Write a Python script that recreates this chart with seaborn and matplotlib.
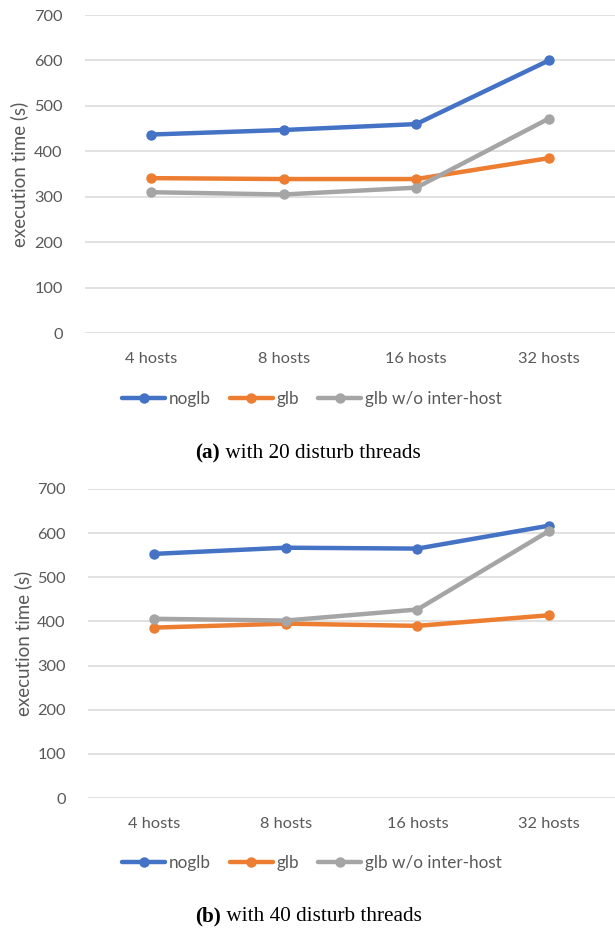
import numpy as np
import pandas as pd
import matplotlib
matplotlib.use("Agg")
import matplotlib.pyplot as plt
import seaborn as sns

# data
hosts = ["4 hosts", "8 hosts", "16 hosts", "32 hosts"]
series = ["noglb", "glb", "glb w/o inter-host"]

noglb_20 = [437, 447, 460, 600]
glb_20 = [341, 339, 339, 385]
nointer_20 = [310, 305, 320, 472]

noglb_40 = [553, 567, 565, 617]
glb_40 = [386, 395, 390, 414]
nointer_40 = [406, 402, 427, 605]

colors = ["#4472C4", "#ED7D31", "#A5A5A5"]
text_gray = "#595959"
grid_gray = "#D9D9D9"


def long_df(a, b, c):
    rows = []
    for name, vals in zip(series, [a, b, c]):
        for h, v in zip(hosts, vals):
            rows.append({"hosts": h, "series": name, "time": v})
    return pd.DataFrame(rows)


df20 = long_df(noglb_20, glb_20, nointer_20)
df40 = long_df(noglb_40, glb_40, nointer_40)

sns.set_theme(style="white")
plt.rcParams["font.family"] = ["Lato", "DejaVu Sans"]

fig = plt.figure(figsize=(6.15, 9.30), dpi=100)
ax1 = fig.add_axes([0.138, 0.6419, 0.862, 0.3419])
ax2 = fig.add_axes([0.143, 0.1419, 0.857, 0.3323])


def draw(ax, df):
    sns.lineplot(data=df, x="hosts", y="time", hue="series", palette=colors,
                 sort=False, marker="o", markersize=7.5, markeredgewidth=0,
                 linewidth=3.2, ax=ax, legend=True)
    ax.set_ylim(0, 700)
    ax.set_xlim(-0.5, 3.5)
    ax.set_yticks(range(0, 701, 100))
    ax.yaxis.grid(True, color=grid_gray, linewidth=1.1)
    ax.set_axisbelow(True)
    for s in ax.spines.values():
        s.set_visible(False)
    ax.tick_params(axis="both", length=0, labelsize=11.8, colors=text_gray)
    ax.tick_params(axis="y", pad=16)
    ax.tick_params(axis="x", pad=14)
    ax.set_xlabel("")
    ax.set_ylabel("execution time (s)", fontsize=13.5, color=text_gray, labelpad=4)
    handles, labels = ax.get_legend_handles_labels()
    ax.get_legend().remove()
    return handles, labels


h1, l1 = draw(ax1, df20)
h2, l2 = draw(ax2, df40)

for handles, labels, ly in [(h1, l1, 0.571), (h2, l2, 0.072)]:
    fig.legend(handles, labels, loc="center", bbox_to_anchor=(0.507, ly), ncol=3,
               frameon=False, fontsize=12.3, handlelength=2.5, handletextpad=0.2,
               columnspacing=1.15, labelcolor=text_gray)

# sub-captions, bold letter + regular text
for letter, rest, cy in [("(a)", " with 20 disturb threads", 1 - 453 / 930),
                         ("(b)", " with 40 disturb threads", 1 - 916 / 930)]:
    t = fig.text(0.318, cy, letter, fontsize=15.3, fontweight="bold",
                 family="Liberation Serif", ha="left", va="center", color="black")
    ax1.annotate(rest, xy=(1, 0), xycoords=t, va="bottom", ha="left",
                 fontsize=15.3, family="Liberation Serif", color="black",
                 annotation_clip=False)

fig.savefig("out.png", dpi=100)
